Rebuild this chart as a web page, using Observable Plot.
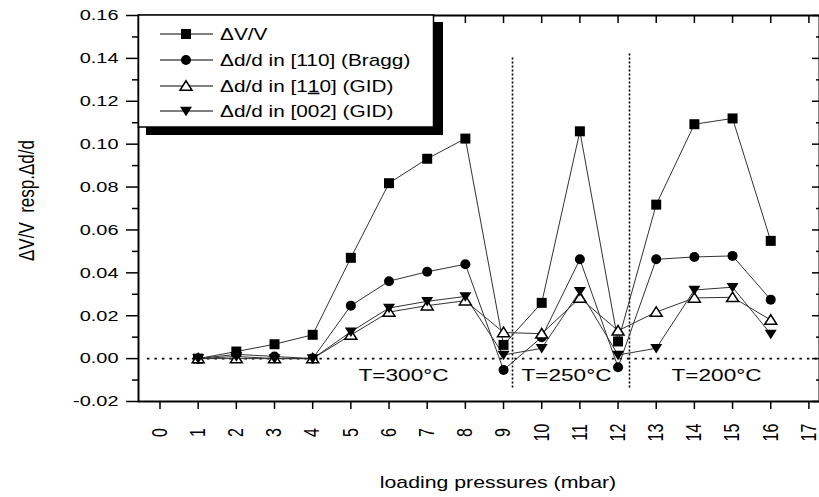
<!DOCTYPE html>
<html><head><meta charset="utf-8">
<script src="https://cdn.jsdelivr.net/npm/d3@7"></script>
<script src="https://cdn.jsdelivr.net/npm/@observablehq/plot@0.6"></script>
<style>html,body{margin:0;padding:0;background:#fff}</style>
</head><body><div id="chart"></div>
<script>
// ---------- data ----------
const pressures = [1,2,3,4,5,6,7,8,9,10,11,12,13,14,15,16];
const dVV    = [0.000,0.0033,0.0067,0.0111,0.0470,0.0818,0.0932,0.1026,0.0064,0.0260,0.1060,0.0080,0.0718,0.1093,0.1120,0.0549];
const bragg  = [0.000,0.0020,0.0010,0.0000,0.0247,0.0361,0.0405,0.0440,-0.0053,0.0100,0.0463,-0.0040,0.0463,0.0474,0.0479,0.0275];
const gid110 = [0.000,0.0000,0.0000,0.0000,0.0110,0.0217,0.0247,0.0270,0.0122,0.0116,0.0283,0.0130,0.0217,0.0283,0.0286,0.0180];
const gid002 = [0.000,0.0010,0.0000,0.0000,0.0125,0.0236,0.0267,0.0290,0.0017,0.0048,0.0314,0.0017,0.0048,0.0320,0.0333,0.0115];
const seriesNames = ["ΔV/V", "Δd/d in [110] (Bragg)", "Δd/d in [1_1_0] (GID)", "Δd/d in [002] (GID)"];
const xTicks = [0,1,2,3,4,5,6,7,8,9,10,11,12,13,14,15,16,17];
const yTicks = [-0.02,0,0.02,0.04,0.06,0.08,0.10,0.12,0.14,0.16];
const yMinorTicks = [-0.01,0.01,0.03,0.05,0.07,0.09,0.11,0.13,0.15];
const regionBreaks = [9.235, 12.30];
const regionBreakTops = [0.1404, 0.1428];
const regionBreakBottom = -0.0137;
const regionLabels = ["T=300°C", "T=250°C", "T=200°C"];
const regionLabelX = [6.38, 10.65, 14.58];
const regionLabelY = -0.0079;
const zeroLineStart = -0.33;
const xTitle = "loading pressures (mbar)";
const yTitle = "ΔV/V  resp.Δd/d";

// ---------- build ----------
const seriesValues = [dVV, bragg, gid110, gid002];
const rows = [];
seriesValues.forEach((vals, s) => vals.forEach((v, i) => rows.push({x: pressures[i], y: v, series: s})));
const bySeries = s => rows.filter(d => d.series === s);

const triUp = {draw(ctx, size) { const r = Math.sqrt(size / Math.PI);
  ctx.moveTo(0, -1.05 * r); ctx.lineTo(1.2 * r, 0.85 * r); ctx.lineTo(-1.2 * r, 0.85 * r); ctx.closePath(); }};
const triDown = {draw(ctx, size) { const r = Math.sqrt(size / Math.PI);
  ctx.moveTo(0, 1.05 * r); ctx.lineTo(1.2 * r, -0.85 * r); ctx.lineTo(-1.2 * r, -0.85 * r); ctx.closePath(); }};
const symbolStyles = [
  {symbol: "square", r: 5.64, fill: "black", stroke: "none", strokeWidth: 0},
  {symbol: "circle", r: 5, fill: "black", stroke: "none", strokeWidth: 0},
  {symbol: triUp, r: 5, fill: "white", stroke: "black", strokeWidth: 1.5},
  {symbol: triDown, r: 5, fill: "black", stroke: "none", strokeWidth: 0}
];

const font = "'Liberation Sans', Arial, sans-serif";
const blank = () => "";

const plot = Plot.plot({
  width: 819, height: 497,
  marginLeft: 138, marginRight: 0, marginTop: 15, marginBottom: 96,
  style: {fontFamily: font, fontSize: "15px", color: "black", background: "white"},
  x: {domain: [-0.55, 17.33], range: [138.5, 821], label: null},
  y: {domain: [-0.02, 0.16], label: null},
  marks: [
    Plot.ruleY([0], {x1: zeroLineStart, x2: 17.33, stroke: "black", strokeWidth: 1.7, strokeDasharray: "2.5,5"}),
    Plot.ruleX(regionBreaks.map((x, i) => ({x, top: regionBreakTops[i]})),
      {x: "x", y1: regionBreakBottom, y2: "top", stroke: "black", strokeWidth: 1.6, strokeDasharray: "2,2"}),
    ...[0,1,2,3].map(s => Plot.line(bySeries(s), {x: "x", y: "y", stroke: "#333", strokeWidth: 1})),
    ...[0,1,2,3].map(s => Plot.dot(bySeries(s), {x: "x", y: "y", ...symbolStyles[s]})),
    Plot.text(regionLabels.map((t, i) => ({t, x: regionLabelX[i]})),
      {x: "x", y: () => regionLabelY, text: "t", fontSize: 17, fill: "black", textAnchor: "middle", lineAnchor: "middle"}),
    // axes
    Plot.axisY({ticks: yTicks, tickSize: 12, tickPadding: 8, tickFormat: d => d.toFixed(2), fontSize: 15, strokeWidth: 1.5, label: null}),
    Plot.axisY({ticks: yMinorTicks, tickSize: 6, tickFormat: blank, strokeWidth: 1.5, label: null}),
    Plot.axisY({anchor: "right", ticks: yTicks, tickSize: -8, tickFormat: blank, strokeWidth: 1.5, label: null}),
    Plot.axisY({anchor: "right", ticks: yMinorTicks, tickSize: -4, tickFormat: blank, strokeWidth: 1.5, label: null}),
    Plot.axisX({ticks: xTicks, tickSize: 8, tickFormat: blank, strokeWidth: 1.5, label: null}),
    Plot.axisX({anchor: "top", ticks: xTicks, tickSize: -7, tickFormat: blank, strokeWidth: 1.5, label: null}),
    Plot.text(xTicks, {x: d => d, frameAnchor: "bottom", dy: 31, rotate: -90, text: d => String(d),
      textAnchor: "middle", lineAnchor: "middle", fontSize: 16, fill: "black"}),
    Plot.text([xTitle], {frameAnchor: "bottom", dx: 19, dy: 81, text: d => d, textAnchor: "middle", lineAnchor: "middle", fontSize: 16, fill: "black", letterSpacing: 1}),
    Plot.text([yTitle], {frameAnchor: "left", dx: -111.5, dy: -8, rotate: -90, text: d => d, textAnchor: "middle", lineAnchor: "middle", fontSize: 17, fill: "black", letterSpacing: 1}),
    Plot.frame({stroke: "black", strokeWidth: 2})
  ]
});

// horizontal stretch of text, as in the scanned original
function stretchText(root, s) {
  root.querySelectorAll("text").forEach(t => {
    const tr = t.getAttribute("transform");
    if (tr && /^translate\(/.test(tr)) {
      t.setAttribute("transform", tr.replace(/^(translate\([^)]*\))/, `$1 scale(${s},1)`));
    } else {
      const x = +t.getAttribute("x") || 0, y = +t.getAttribute("y") || 0;
      t.setAttribute("transform", `translate(${x},${y}) scale(${s},1) translate(${-x},${-y})` + (tr ? " " + tr : ""));
    }
  });
}
stretchText(plot, 1.33);

// legend (box with drop shadow)
const svg = d3.select(plot);
const lg = svg.append("g").attr("font-family", font).attr("text-anchor", "start");
lg.append("rect").attr("x", 146).attr("y", 22).attr("width", 297).attr("height", 113).attr("fill", "black");
lg.append("rect").attr("x", 138.5).attr("y", 15).attr("width", 295).attr("height", 112)
  .attr("fill", "white").attr("stroke", "black").attr("stroke-width", 1.5);
const rowY = [34, 60, 86, 111];
seriesNames.forEach((name, s) => {
  const y = rowY[s];
  lg.append("line").attr("x1", 160).attr("x2", 213).attr("y1", y).attr("y2", y).attr("stroke", "black").attr("stroke-width", 1);
  const st = symbolStyles[s];
  const type = typeof st.symbol === "string" ? (st.symbol === "square" ? d3.symbolSquare : d3.symbolCircle) : st.symbol;
  lg.append("path").attr("d", d3.symbol(type, st.r * st.r * Math.PI)())
    .attr("transform", `translate(186,${y})`)
    .attr("fill", st.fill).attr("stroke", st.stroke).attr("stroke-width", st.strokeWidth);
  const txt = lg.append("text").attr("transform", `translate(220,${y}) scale(1.3,1)`)
    .attr("text-anchor", "start").attr("dy", "0.36em").attr("font-size", 16).attr("fill", "black");
  name.split("_").forEach((part, k) => {
    const ts = txt.append("tspan").text(part);
    if (k % 2 === 1) ts.attr("text-decoration", "underline");
  });
});

document.getElementById("chart").appendChild(plot);
</script>
</body></html>
